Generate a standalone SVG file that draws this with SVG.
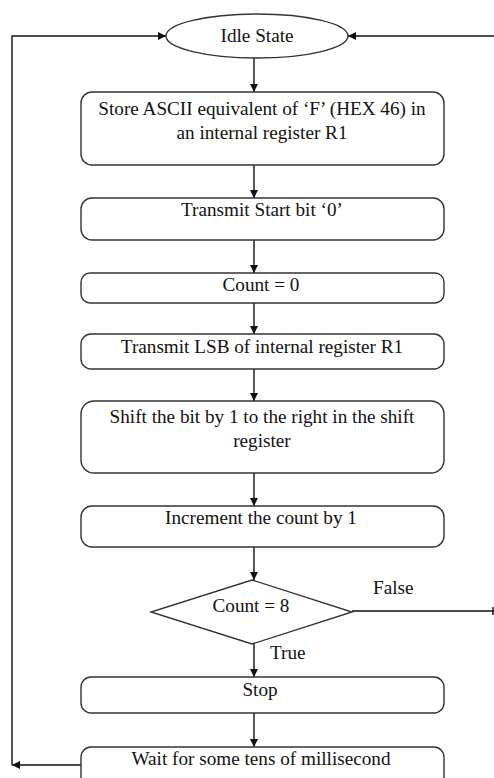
<svg xmlns="http://www.w3.org/2000/svg" width="494" height="778" viewBox="0 0 494 778">
  <defs>
    <marker id="arrow" viewBox="0 0 10 10" refX="10" refY="5" markerWidth="8" markerHeight="8" markerUnits="userSpaceOnUse" orient="auto">
      <path d="M0,0 L10,5 L0,10 Z" fill="#111"/>
    </marker>
    <style>
      .box { fill: #fff; stroke: #333; stroke-width: 1.4; }
      .line { fill: none; stroke: #111; stroke-width: 1.4; }
      text { font-family: 'Liberation Serif', 'Times New Roman', serif; font-size: 19.2px; fill: #111; }
      .lbl { text-anchor: middle; }
      .side { text-anchor: start; }
    </style>
  </defs>
  <rect width="494" height="778" fill="#fff"/>

  <g id="connectors">
    <line class="line" x1="254" y1="58" x2="254" y2="92" marker-end="url(#arrow)"/>
    <line class="line" x1="254" y1="165" x2="254" y2="198" marker-end="url(#arrow)"/>
    <line class="line" x1="254" y1="240" x2="254" y2="273" marker-end="url(#arrow)"/>
    <line class="line" x1="254" y1="303" x2="254" y2="334" marker-end="url(#arrow)"/>
    <line class="line" x1="254" y1="369" x2="254" y2="401" marker-end="url(#arrow)"/>
    <line class="line" x1="254" y1="473" x2="254" y2="506" marker-end="url(#arrow)"/>
    <line class="line" x1="254" y1="547" x2="254" y2="580" marker-end="url(#arrow)"/>
    <line class="line" x1="254" y1="644" x2="254" y2="677" marker-end="url(#arrow)"/>
    <line class="line" x1="254" y1="713" x2="254" y2="747" marker-end="url(#arrow)"/>
    <!-- loop back from the wait box to the idle state -->
    <line class="line" x1="81" y1="765" x2="12" y2="765" marker-end="url(#arrow)"/>
    <polyline class="line" points="12,765 12,36 166,36" marker-end="url(#arrow)"/>
    <!-- return path entering idle state from the right -->
    <line class="line" x1="494" y1="36" x2="348" y2="36" marker-end="url(#arrow)"/>
    <!-- false branch -->
    <line class="line" x1="352" y1="611" x2="494" y2="611"/>
    <line class="line" x1="493" y1="607" x2="493" y2="615"/>
    <text class="side" x="373" y="594">False</text>
    <text class="side" x="270" y="659">True</text>
  </g>

  <g id="idle">
    <ellipse class="box" cx="257" cy="36" rx="91" ry="22"/>
    <text class="lbl" x="257" y="42">Idle State</text>
  </g>

  <g id="store">
    <rect class="box" x="81" y="92" width="363" height="73" rx="11"/>
    <text class="lbl" x="262" y="115">Store ASCII equivalent of ‘F’ (HEX 46) in</text>
    <text class="lbl" x="262" y="139">an internal register R1</text>
  </g>

  <g id="start-bit">
    <rect class="box" x="81" y="198" width="363" height="42" rx="11"/>
    <text class="lbl" x="262" y="216">Transmit Start bit ‘0’</text>
  </g>

  <g id="count-zero">
    <rect class="box" x="81" y="273" width="363" height="30" rx="9"/>
    <text class="lbl" x="261" y="291">Count = 0</text>
  </g>

  <g id="transmit-lsb">
    <rect class="box" x="81" y="334" width="363" height="35" rx="10"/>
    <text class="lbl" x="262" y="353">Transmit LSB of internal register R1</text>
  </g>

  <g id="shift">
    <rect class="box" x="81" y="401" width="363" height="72" rx="13"/>
    <text class="lbl" x="262" y="423">Shift the bit by 1 to the right in the shift</text>
    <text class="lbl" x="262" y="447">register</text>
  </g>

  <g id="increment">
    <rect class="box" x="81" y="506" width="363" height="41" rx="11"/>
    <text class="lbl" x="261" y="524">Increment the count by 1</text>
  </g>

  <g id="decision">
    <polygon class="box" points="252,580 352,612 252,644 151,612"/>
    <text class="lbl" x="251" y="612">Count = 8</text>
  </g>

  <g id="stop">
    <rect class="box" x="81" y="677" width="363" height="36" rx="10"/>
    <text class="lbl" x="260" y="696">Stop</text>
  </g>

  <g id="wait">
    <rect class="box" x="81" y="747" width="363" height="40" rx="10"/>
    <text class="lbl" x="261" y="765">Wait for some tens  of millisecond</text>
  </g>
</svg>
